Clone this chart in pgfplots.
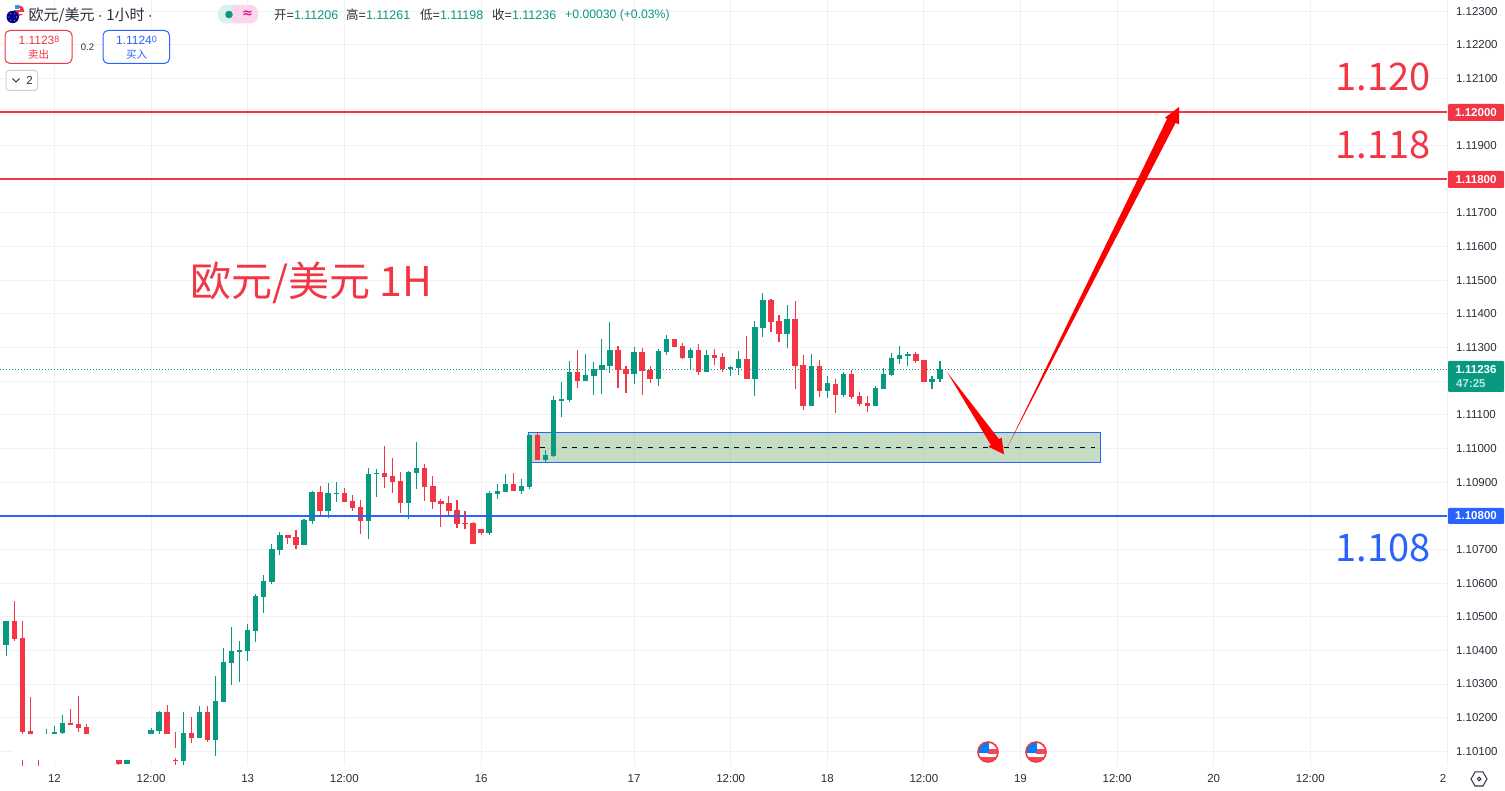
\documentclass[border=0pt]{standalone}
\usepackage{pgfplots}
\usepackage{pgfplotstable}
\pgfplotsset{compat=1.18}
\usepackage{fontspec}
\setmainfont{Liberation Sans}
\newfontfamily\cjk{Noto Sans CJK SC}
\newfontfamily\sym{DejaVu Sans}
\definecolor{tvred}{HTML}{F23645}
\definecolor{tvgreen}{HTML}{089981}
\definecolor{tvblue}{HTML}{2962FF}
\definecolor{tvgrid}{HTML}{F0F1F4}
\definecolor{tvtext}{HTML}{2A2E39}
\definecolor{tvbox}{RGB}{100,165,100}
\newcommand{\fs}[1]{\fontsize{#1}{#1}\selectfont}

\pgfplotstableread{
i open high low close
0 1.10416 1.10488 1.10384 1.10488
5 1.10119 1.10167 1.10104 1.10146
6 1.10134 1.10176 1.10119 1.10158
7 1.10155 1.10208 1.10152 1.10185
11 1.10110 1.10140 1.10098 1.10128
13 1.10095 1.10119 1.10084 1.10104
15 1.10063 1.10090 1.10063 1.10075
17 1.10113 1.10140 1.10098 1.10128
18 1.10152 1.10170 1.10146 1.10164
19 1.10161 1.10220 1.10152 1.10217
22 1.10072 1.10217 1.10060 1.10155
24 1.10140 1.10235 1.10140 1.10217
26 1.10134 1.10324 1.10087 1.10250
27 1.10247 1.10407 1.10247 1.10366
28 1.10363 1.10470 1.10297 1.10398
29 1.10395 1.10428 1.10306 1.10401
30 1.10398 1.10479 1.10369 1.10461
31 1.10458 1.10568 1.10425 1.10562
32 1.10559 1.10624 1.10511 1.10606
33 1.10603 1.10716 1.10597 1.10701
34 1.10698 1.10752 1.10684 1.10743
37 1.10713 1.10791 1.10713 1.10788
38 1.10785 1.10874 1.10776 1.10871
40 1.10814 1.10897 1.10794 1.10868
41 1.10865 1.10900 1.10841 1.10868
45 1.10785 1.10942 1.10731 1.10924
46 1.10924 1.10939 1.10856 1.10927
50 1.10838 1.10933 1.10791 1.10930
51 1.10927 1.11019 1.10879 1.10942
60 1.10749 1.10874 1.10743 1.10868
61 1.10865 1.10894 1.10850 1.10874
62 1.10871 1.10924 1.10871 1.10894
64 1.10874 1.10909 1.10865 1.10888
65 1.10885 1.11040 1.10879 1.11040
67 1.10966 1.10995 1.10957 1.10981
68 1.10978 1.11156 1.10975 1.11144
69 1.11141 1.11197 1.11093 1.11147
70 1.11144 1.11260 1.11138 1.11227
72 1.11200 1.11281 1.11200 1.11218
73 1.11215 1.11257 1.11159 1.11236
74 1.11233 1.11325 1.11162 1.11248
75 1.11245 1.11376 1.11224 1.11292
78 1.11221 1.11301 1.11191 1.11286
81 1.11206 1.11295 1.11185 1.11289
82 1.11286 1.11337 1.11278 1.11325
85 1.11269 1.11298 1.11233 1.11292
87 1.11227 1.11292 1.11227 1.11278
90 1.11236 1.11245 1.11215 1.11242
91 1.11239 1.11289 1.11218 1.11266
93 1.11206 1.11379 1.11156 1.11361
94 1.11358 1.11462 1.11331 1.11441
97 1.11340 1.11426 1.11298 1.11385
100 1.11126 1.11281 1.11126 1.11245
102 1.11171 1.11215 1.11150 1.11194
104 1.11159 1.11227 1.11153 1.11221
108 1.11126 1.11185 1.11126 1.11179
109 1.11176 1.11239 1.11176 1.11221
110 1.11218 1.11283 1.11215 1.11269
111 1.11266 1.11304 1.11251 1.11278
112 1.11275 1.11286 1.11245 1.11281
115 1.11197 1.11215 1.11176 1.11206
116 1.11206 1.11261 1.11198 1.11236
}\upbars

\pgfplotstableread{
i open high low close
1 1.10488 1.10547 1.10428 1.10434
2 1.10437 1.10488 1.10051 1.10158
3 1.10161 1.10262 1.10119 1.10143
4 1.10119 1.10134 1.10051 1.10104
8 1.10185 1.10226 1.10179 1.10179
9 1.10182 1.10265 1.10158 1.10170
10 1.10173 1.10182 1.10134 1.10146
12 1.10119 1.10134 1.10090 1.10104
14 1.10075 1.10090 1.10060 1.10063
16 1.10119 1.10134 1.10090 1.10104
20 1.10217 1.10238 1.10149 1.10152
21 1.10075 1.10158 1.10060 1.10071
23 1.10155 1.10202 1.10125 1.10140
25 1.10217 1.10235 1.10128 1.10134
35 1.10743 1.10743 1.10716 1.10734
36 1.10737 1.10758 1.10701 1.10713
39 1.10871 1.10888 1.10802 1.10814
42 1.10868 1.10882 1.10841 1.10841
43 1.10844 1.10862 1.10814 1.10823
44 1.10826 1.10847 1.10746 1.10785
47 1.10927 1.11007 1.10882 1.10915
48 1.10918 1.10972 1.10868 1.10900
49 1.10903 1.10930 1.10808 1.10838
52 1.10942 1.10954 1.10844 1.10885
53 1.10888 1.10918 1.10820 1.10841
54 1.10844 1.10850 1.10767 1.10835
55 1.10838 1.10859 1.10799 1.10814
56 1.10817 1.10847 1.10764 1.10776
57 1.10779 1.10814 1.10761 1.10776
58 1.10779 1.10782 1.10716 1.10716
59 1.10761 1.10761 1.10743 1.10749
63 1.10894 1.10927 1.10874 1.10874
66 1.11040 1.11046 1.10966 1.10966
71 1.11227 1.11292 1.11179 1.11200
76 1.11292 1.11304 1.11179 1.11233
77 1.11236 1.11245 1.11165 1.11221
79 1.11286 1.11298 1.11159 1.11230
80 1.11233 1.11245 1.11194 1.11206
83 1.11325 1.11325 1.11301 1.11301
84 1.11304 1.11313 1.11266 1.11269
86 1.11292 1.11310 1.11218 1.11227
88 1.11278 1.11295 1.11248 1.11269
89 1.11272 1.11283 1.11227 1.11236
92 1.11266 1.11334 1.11206 1.11206
95 1.11441 1.11444 1.11346 1.11376
96 1.11379 1.11396 1.11316 1.11340
98 1.11385 1.11438 1.11176 1.11245
99 1.11248 1.11278 1.11114 1.11126
101 1.11245 1.11263 1.11153 1.11171
103 1.11191 1.11206 1.11105 1.11159
105 1.11221 1.11233 1.11147 1.11153
106 1.11156 1.11168 1.11126 1.11132
107 1.11135 1.11156 1.11108 1.11126
113 1.11281 1.11286 1.11254 1.11260
114 1.11263 1.11263 1.11197 1.11197
}\downbars

\begin{document}
\begin{tikzpicture}
\useasboundingbox (0,0) rectangle (1505pt,790pt);
\begin{axis}[
  at={(0pt,24pt)}, anchor=south west,
  scale only axis, width=1447pt, height=766pt,
  xmin=-0.770, xmax=178.98, ymin=1.100563, ymax=1.123329,
  axis line style={draw=none},
  major tick length=0pt,
  tick style={draw=none},
  xtick={6,18,30,42,59,78,90,102,114,126,138,150,162},
  xticklabels={12,12:00,13,12:00,16,17,12:00,18,12:00,19,12:00,20,12:00},
  extra x ticks={178.48},
  extra x tick labels={2},
  extra x tick style={grid=none},
  ytick={1.101,1.102,1.103,1.104,1.105,1.106,1.107,1.109,1.110,1.111,1.113,1.114,1.115,1.116,1.117,1.119,1.121,1.122,1.123},
  extra y ticks={1.108,1.112,1.118,1.120},
  extra y tick labels={},
  yticklabel pos=right,
  xmajorgrids, ymajorgrids,
  grid style={draw=tvgrid, line width=1pt},
  tick label style={font=\fs{11.5}, text=tvtext},
  yticklabel style={anchor=west, xshift=5.5pt, /pgf/number format/fixed, /pgf/number format/fixed zerofill, /pgf/number format/precision=5, /pgf/number format/assume math mode=true},
  xticklabel style={anchor=base, yshift=-16pt},
  clip=true,
]
% zone
\addplot[draw=tvblue, line width=1pt, fill=tvbox, fill opacity=0.38] coordinates {(64.94,1.11047)(135.9,1.11047)(135.9,1.10957)(64.94,1.10957)} --cycle;
\addplot[black, line width=1pt, dash pattern=on 5pt off 5.8pt] coordinates {(66.3,1.11003)(135.25,1.11003)};
% last price
\addplot[tvgreen, line width=1pt, dash pattern=on 1pt off 2pt] coordinates {(-0.770,1.11236)(178.98,1.11236)};
% wicks and bodies
\addplot[draw=none, mark=none, forget plot, error bars/.cd, y dir=both, y explicit, error mark=none, error bar style={draw=tvgreen, line width=1.1pt}] table[x=i, y=high, y error plus expr=0, y error minus expr=\thisrow{high}-\thisrow{low}] {\upbars};
\addplot[draw=none, mark=none, forget plot, error bars/.cd, y dir=both, y explicit, error mark=none, error bar style={draw=tvred, line width=1.1pt}] table[x=i, y=high, y error plus expr=0, y error minus expr=\thisrow{high}-\thisrow{low}] {\downbars};
\addplot[draw=none, mark=none, forget plot, error bars/.cd, y dir=both, y explicit, error mark=none, error bar style={draw=tvgreen, line width=5.4pt}] table[x=i, y=close, y error plus expr=0, y error minus expr=\thisrow{close}-\thisrow{open}] {\upbars};
\addplot[draw=none, mark=none, forget plot, error bars/.cd, y dir=both, y explicit, error mark=none, error bar style={draw=tvred, line width=5.4pt}] table[x=i, y=open, y error plus expr=0, y error minus expr=\thisrow{open}-\thisrow{close}] {\downbars};
% levels
\addplot[tvred, line width=2pt] coordinates {(-0.770,1.12)(178.98,1.12)};
\addplot[tvred, line width=2pt] coordinates {(-0.770,1.118)(178.98,1.118)};
\addplot[tvblue, line width=2pt] coordinates {(-0.770,1.108)(178.98,1.108)};
\end{axis}
\begin{scope}[x=1pt,y=-1pt,yshift=790pt]
% white patch from the source picture
\fill[white] (13,733.6) rectangle (173.6,760);
\fill[white] (173.6,748) rectangle (178,758);
\draw[tvgrid, line width=1pt] (1447,0) -- (1447,766);
% arrows
\fill[red] (947,372) -- (999.1,439.35) -- (1001.7,437.7) -- (1004,454.3) -- (988.3,446.7) -- (990.9,445.05) -- cycle;
\fill[red] (1007,448) -- (1175.5,123) -- (1179,124.3) -- (1179,107) -- (1165,117.7) -- (1167,119) -- cycle;
% big labels
\node[text=tvred,inner sep=0] at (1383,77) {\cjk\fs{38}1.120};
\node[text=tvred,inner sep=0] at (1383,145) {\cjk\fs{38}1.118};
\node[text=tvblue,inner sep=0] at (1383,548) {\cjk\fs{38}1.108};
\node[text=tvred,inner sep=0,anchor=west] at (190,283) {\cjk\fs{41}欧元/美元 1H};
% price tags
\fill[tvred,rounded corners=1pt] (1448,104) rectangle (1504,121);
\node[text=white,inner sep=0] at (1476,112.5) {\fs{11.5}\bfseries 1.12000};
\fill[tvred,rounded corners=1pt] (1448,171) rectangle (1504,188);
\node[text=white,inner sep=0] at (1476,179.5) {\fs{11.5}\bfseries 1.11800};
\fill[tvblue,rounded corners=1pt] (1448,508) rectangle (1504,524);
\node[text=white,inner sep=0] at (1476,516) {\fs{11.5}\bfseries 1.10800};
\fill[tvgreen,rounded corners=1pt] (1448,361) rectangle (1504,392);
\node[text=white,inner sep=0] at (1476,369.5) {\fs{11.5}\bfseries 1.11236};
\node[text=white,opacity=.75,inner sep=0,anchor=west] at (1456,384) {\fs{11.5}\bfseries 47:25};
% header
\fill[tvred] (19,10.7) circle (5.3);
\fill[white] (19,12.5) rectangle (24.8,14);
\fill[white] (14,8.5) rectangle (20,10.5);
\fill[tvblue!60!cyan] (14.5,5.5) rectangle (19,9);
\fill[blue!60!black] (12.7,17) circle (6.2);
\foreach \a in {0,60,...,300} {\fill[yellow!90!orange] (12.7,17) ++(\a:3.8) circle (0.55);}
\node[text=tvtext,inner sep=0,anchor=west] at (28.5,15.5) {\cjk\fs{15}欧元/美元 {\normalfont\fs{15}·} 1小时 {\normalfont\fs{15}·}};
\fill[tvgreen!15,rounded corners=8pt] (218,5) rectangle (246,23.5);
\fill[tvgreen!15] (230,5) rectangle (238,23.5);
\fill[magenta!17,rounded corners=8pt] (230,5) rectangle (258,23.5);
\fill[magenta!17] (238,5) rectangle (246,23.5);
\fill[tvgreen] (229,14.5) circle (3.8);
\node[text=magenta!90!black,inner sep=0] at (247.5,14.5) {\sym\fs{13}\bfseries ≈};
\node[inner sep=0,anchor=west] at (274,15) {\fs{12.5}{\color{tvtext}\cjk 开}{\color{tvtext}=}\color{tvgreen}1.11206};
\node[inner sep=0,anchor=west] at (346,15) {\fs{12.5}{\color{tvtext}\cjk 高}{\color{tvtext}=}\color{tvgreen}1.11261};
\node[inner sep=0,anchor=west] at (420,15) {\fs{12.5}{\color{tvtext}\cjk 低}{\color{tvtext}=}\color{tvgreen}1.11198};
\node[inner sep=0,anchor=west] at (492,15) {\fs{12.5}{\color{tvtext}\cjk 收}{\color{tvtext}=}\color{tvgreen}1.11236};
\node[inner sep=0,anchor=west,text=tvgreen] at (565,15) {\fs{12.2}+0.00030 (+0.03\%)};
% buttons
\draw[tvred,fill=white,line width=1pt,rounded corners=5pt] (5,30.5) rectangle (72,63.5);
\node[text=tvred,inner sep=0] at (39,40.5) {\fs{12}1.1123\raisebox{2pt}{\fs{9}8}};
\node[text=tvred,inner sep=0] at (38.5,55) {\cjk\fs{10.5}卖出};
\node[text=tvtext,inner sep=0] at (87.5,47.5) {\fs{9.5}0.2};
\draw[tvblue,fill=white,line width=1pt,rounded corners=5pt] (103,30.5) rectangle (169.5,63.5);
\node[text=tvblue,inner sep=0] at (136.5,40.5) {\fs{12}1.1124\raisebox{2pt}{\fs{9}0}};
\node[text=tvblue,inner sep=0] at (136.5,55) {\cjk\fs{10.5}买入};
\draw[black!18,fill=white,line width=1pt,rounded corners=3pt] (6,70.5) rectangle (37.5,90.5);
\draw[tvtext,line width=1pt] (12.5,78.5) -- (16,82) -- (19.5,78.5);
\node[text=tvtext,inner sep=0] at (29.5,80.5) {\fs{11.5}2};
% event flags
\foreach \cx in {988,1036} {
  \begin{scope}
    \clip (\cx,752) circle (10);
    \fill[white] (\cx-10,742) rectangle (\cx+10,762);
    \fill[tvred!90] (\cx,749) rectangle (\cx+10,754);
    \fill[tvred!90] (\cx-10,757) rectangle (\cx+10,762);
    \fill[blue!50!cyan] (\cx-10,742) rectangle (\cx+1,753);
  \end{scope}
  \draw[tvred,line width=1.6pt] (\cx,752) circle (10);
}
% settings icon
\draw[tvtext,line width=1pt] (1471,779) -- (1475,772) -- (1483,772) -- (1487,779) -- (1483,786) -- (1475,786) -- cycle;
\draw[tvtext,line width=1pt] (1479,779) circle (1.8);
\end{scope}
\end{tikzpicture}
\end{document}
